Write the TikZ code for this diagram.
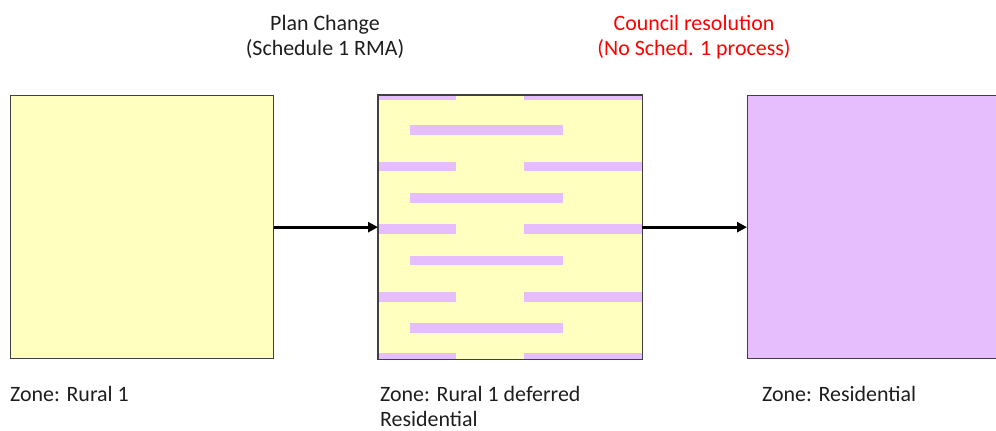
\documentclass[tikz,border=0pt]{standalone}
\usepackage{fontspec}
\setmainfont{Carlito}
\usetikzlibrary{arrows.meta}
\definecolor{zoneyellow}{HTML}{FFFFC0}
\definecolor{zonepurple}{HTML}{E6BEFD}
\definecolor{edgegray}{HTML}{404040}
\definecolor{labelink}{HTML}{1E1E1E}
\definecolor{alertred}{HTML}{FF0000}
\begin{document}
\begin{tikzpicture}[x=1bp,y=-1bp,
  zonebox/.style={draw=edgegray, line width=1.3bp, minimum width=263bp,
    minimum height=263bp, inner sep=0pt, anchor=north west},
  conn/.style={line width=3bp, -{Triangle[length=10bp,width=10bp]}},
  lbl/.style={font=\fontsize{22}{24.5}\selectfont, text=labelink, inner sep=0pt},
  stripe/.style={fill=zonepurple, draw=none}]
\useasboundingbox (0,0) rectangle (996,430);

% zone boxes
\node[zonebox, fill=zoneyellow] (rural) at (10,95) {};
\node[zonebox, fill=zoneyellow, draw=none] (deferred) at (378,95) {};
\node[zonebox, fill=zonepurple] (resid) at (747,95) {};

% hatching of the deferred zone, clipped to its box
\begin{scope}
  \clip (deferred.north west) rectangle (deferred.south east);
  \begin{scope}[shift={(378,95)}]
    % long bars broken in the middle
    \foreach \t in {-5,66.5,129,197,258}{
      \fill[stripe] (-5,\t) rectangle (78,\t+9.5);
      \fill[stripe] (146,\t) rectangle (270,\t+9.5);
    }
    % offset bars in between
    \foreach \t in {30,98,160.5,228}{
      \fill[stripe] (32,\t) rectangle (185,\t+9.5);
    }
  \end{scope}
\end{scope}
\draw[draw=edgegray, line width=1.3bp] (deferred.north west) rectangle (deferred.south east);

% transitions
\draw[conn] (rural) -- (deferred);
\draw[conn] (deferred) -- (resid);

% process labels
\node[lbl, align=center] (planchange) at (325,37) {Plan Change\\(Schedule 1 RMA)};
\node[lbl, align=center, text=alertred] (council) at (694,37) {Council resolution\\(No Sched. 1 process)};

% zone names
\node[lbl, anchor=base west] (zrural) at (10,401.5) {Zone: Rural 1};
\node[lbl, anchor=base west, align=left] (zdeferred) at (380,426) {Zone: Rural 1 deferred\\Residential};
\node[lbl, anchor=base west] (zresid) at (762,401.5) {Zone: Residential};
\end{tikzpicture}
\end{document}
